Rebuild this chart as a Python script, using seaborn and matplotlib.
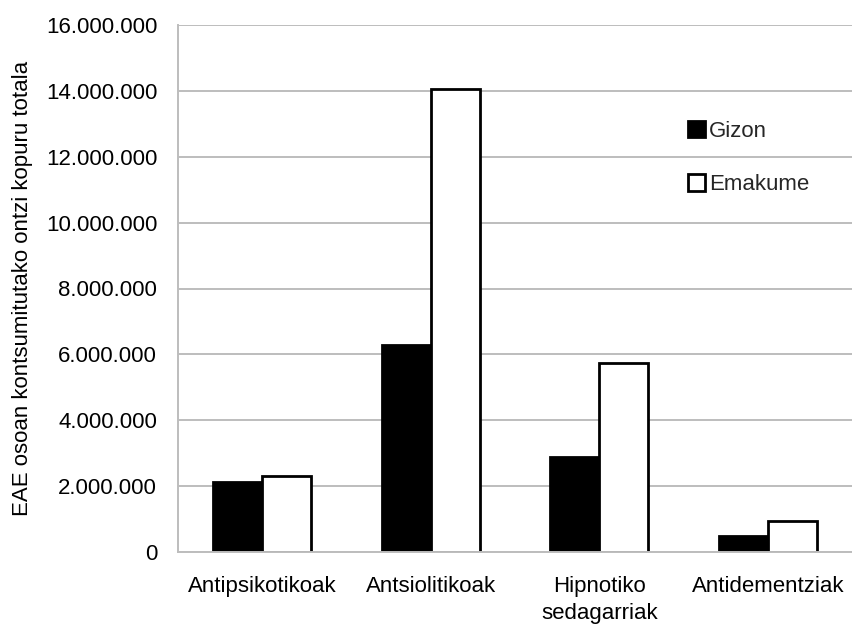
import matplotlib
matplotlib.use("Agg")
import matplotlib.pyplot as plt
import matplotlib.ticker as mticker
import pandas as pd
import seaborn as sns

# Drug groups and package counts by sex
categories = ["Antipsikotikoak", "Antsiolitikoak", "Hipnotiko\nsedagarriak", "Antidementziak"]
gizon = [2120000, 6270000, 2880000, 485000]
emakume = [2300000, 14070000, 5740000, 930000]
series_names = ["Gizon", "Emakume"]
y_ticks = [0, 2000000, 4000000, 6000000, 8000000, 10000000, 12000000, 14000000, 16000000]
y_label = "EAE osoan kontsumitutako ontzi kopuru totala"

df = pd.DataFrame({
    "Taldea": categories * 2,
    "Sexua": [series_names[0]] * len(categories) + [series_names[1]] * len(categories),
    "Ontziak": gizon + emakume,
})

sns.set_theme(style="white")
plt.rcParams["font.family"] = ["Liberation Sans", "DejaVu Sans"]
plt.rcParams["font.size"] = 16

fig = plt.figure(figsize=(8.52, 6.29), dpi=100)
ax = fig.add_axes([178 / 852, 77 / 629, 674 / 852, 527 / 629])

grid_col = "#bdbdbd"
ax.set_axisbelow(True)
ax.yaxis.grid(True, color=grid_col, linewidth=1.4)

sns.barplot(
    data=df, x="Taldea", y="Ontziak", hue="Sexua", order=categories,
    hue_order=series_names, palette={"Gizon": "black", "Emakume": "white"},
    width=0.58, edgecolor="black", linewidth=2, saturation=1, ax=ax,
)

ax.set_xlim(-0.5, -0.5 + 674 / 169.7)
ax.set_ylim(0, 16000000)
ax.set_yticks(y_ticks)
ax.yaxis.set_major_formatter(
    mticker.FuncFormatter(lambda v, _: f"{int(v):,}".replace(",", "."))
)

# Category labels centred, tick marks between categories
ax.set_xticks([-0.5, 0.5, 1.5, 2.5, 3.5])
ax.set_xticklabels([])
ax.set_xticks(range(len(categories)), minor=True)
ax.set_xticklabels(categories, minor=True, fontsize=16, color="black", linespacing=1.4)
ax.tick_params(axis="x", which="minor", length=0, pad=17)
ax.tick_params(axis="x", which="major", length=6, width=1.2, color=grid_col, direction="out")
ax.tick_params(axis="y", length=6, width=1.2, color=grid_col, direction="out",
               labelsize=16, labelcolor="black", pad=9)

for side in ["top", "right"]:
    ax.spines[side].set_visible(False)
for side in ["left", "bottom"]:
    ax.spines[side].set_color(grid_col)
    ax.spines[side].set_linewidth(1.4)

ax.set_xlabel("")
ax.set_ylabel(y_label, fontsize=16, color="black", labelpad=9)

handles, labels = ax.get_legend_handles_labels()
if ax.get_legend() is not None:
    ax.get_legend().remove()
fig.legend(
    handles, labels, loc="upper left", bbox_to_anchor=(688 / 852, 1 - 121 / 629),
    frameon=False, fontsize=16, handlelength=0.75, handleheight=0.75,
    handletextpad=0.2, labelspacing=1.45, borderpad=0, borderaxespad=0,
)

fig.savefig("out.png", dpi=100)
